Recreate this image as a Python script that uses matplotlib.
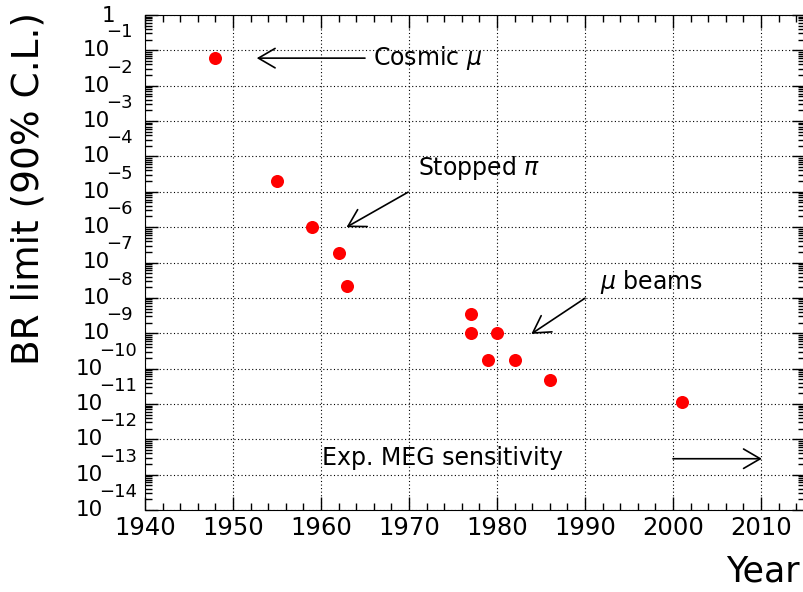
import matplotlib
matplotlib.use("Agg")
import matplotlib.pyplot as plt
from matplotlib.ticker import FixedLocator, LogLocator, MultipleLocator, NullFormatter
from matplotlib.transforms import blended_transform_factory

# measured upper limits on BR(mu -> e gamma), 90% C.L.
years = [1948, 1955, 1959, 1962, 1963, 1977, 1977, 1979, 1980, 1982, 1986, 2001]
br_limit = [6e-2, 2e-5, 1e-6, 1.9e-7, 2.2e-8, 3.6e-9, 1e-9, 1.8e-10, 1e-9,
            1.7e-10, 4.9e-11, 1.1e-11]

decades = list(range(0, -15, -1))
xticks = [1940, 1950, 1960, 1970, 1980, 1990, 2000, 2010]

plt.rcParams["font.family"] = "DejaVu Sans"
plt.rcParams["mathtext.fontset"] = "dejavusans"

fig = plt.figure(figsize=(8.04, 5.92), dpi=100)
ax = fig.add_axes([145 / 804, 82 / 592, 660 / 804, 495 / 592])

ax.plot(years, br_limit, "o", color="red", markersize=9.4, markeredgewidth=0)

ax.set_yscale("log")
ax.set_xlim(1940, 2015)
ax.set_ylim(1e-14, 1)

ax.xaxis.set_major_locator(FixedLocator(xticks))
ax.xaxis.set_minor_locator(MultipleLocator(2))
ax.yaxis.set_major_locator(FixedLocator([10.0 ** e for e in decades]))
ax.yaxis.set_major_formatter(NullFormatter())
ax.yaxis.set_minor_locator(LogLocator(base=10, subs=range(2, 10), numticks=100))
ax.yaxis.set_minor_formatter(NullFormatter())

ax.tick_params(which="both", direction="in", top=True, right=True, width=1)
ax.tick_params(which="major", length=9.4)
ax.tick_params(which="minor", length=5)
ax.tick_params(axis="x", labelsize=17.5, pad=4)

ax.grid(True, which="major", color="black", linestyle=(0, (1, 2.2)), linewidth=0.8)

# ROOT-style log labels: "10" at the tick, exponent raised above it
trans = blended_transform_factory(ax.transAxes, ax.transData)
for e in decades:
    y = 10.0 ** e
    if e == 0:
        ax.annotate("1", xy=(0, y), xycoords=trans, xytext=(-21.6, -1),
                    textcoords="offset points", ha="right", va="center", fontsize=15.5)
        continue
    exp_text = "\u2212%d" % abs(e)
    if abs(e) < 10:
        base_dx, exp_dx = -25.2, -8.6
    else:
        base_dx, exp_dx = -30.2, -5.8
    ax.annotate("10", xy=(0, y), xycoords=trans, xytext=(base_dx, 0),
                textcoords="offset points", ha="right", va="center", fontsize=15.5)
    ax.annotate(exp_text, xy=(0, y), xycoords=trans, xytext=(exp_dx, 13),
                textcoords="offset points", ha="right", va="center", fontsize=13)

ax.set_ylabel("BR limit (90% C.L.)", fontsize=27, va="center")
ax.yaxis.set_label_coords(-0.176, 0.65)
ax.set_xlabel("Year", fontsize=25, ha="right", va="center")
ax.xaxis.set_label_coords(0.992, -0.125)

arrow = dict(arrowstyle="->,head_length=0.6,head_width=0.35", color="black",
             lw=1.2, mutation_scale=20, shrinkA=0, shrinkB=0)

ax.annotate("", xy=(1952.7, 10 ** -1.22), xytext=(1965, 10 ** -1.22), arrowprops=arrow)
ax.text(1965.9, 10 ** -1.22, r"Cosmic $\mu$", fontsize=17, va="center", ha="left")

ax.annotate("", xy=(1962.9, 10 ** -6.0), xytext=(1969.9, 10 ** -5.01), arrowprops=arrow)
ax.text(1971.0, 10 ** -4.33, r"Stopped $\pi$", fontsize=17, va="center", ha="left")

ax.annotate("", xy=(1983.9, 10 ** -9.02), xytext=(1990, 10 ** -8.01), arrowprops=arrow)
ax.text(1991.7, 10 ** -7.54, r"$\mu$ beams", fontsize=17, va="center", ha="left")

ax.annotate("", xy=(2010.1, 10 ** -12.55), xytext=(2000, 10 ** -12.55), arrowprops=arrow)
ax.text(1960.1, 10 ** -12.52, "Exp. MEG sensitivity", fontsize=17, va="center", ha="left")

fig.savefig("out.png", dpi=100)
